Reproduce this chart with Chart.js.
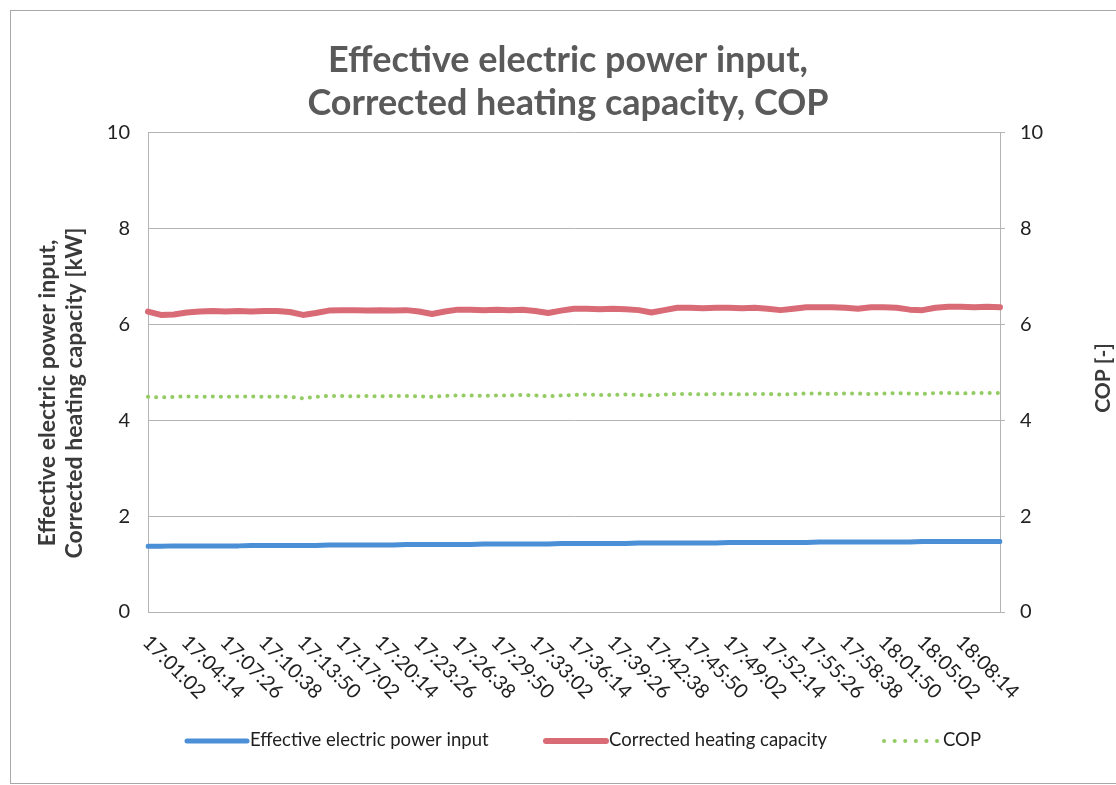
<!DOCTYPE html>
<html>
<head>
<meta charset="utf-8">
<script src="https://cdn.jsdelivr.net/npm/chart.js@4.4.1/dist/chart.umd.min.js"></script>
<style>
  html, body { margin: 0; padding: 0; background: #fff; overflow: hidden; }
  #wrap { position: relative; width: 1116px; height: 785px; overflow: hidden; }
  #frame { position: absolute; left: 10px; top: 10px; width: 1106px; height: 772px;
           border: 1px solid #a8a8a8; border-right: none; pointer-events: none; }
  canvas { position: absolute; left: 0; top: 0; }
</style>
</head>
<body>
<div id="wrap">
  <canvas id="chart" width="1116" height="785"></canvas>
  <div id="frame"></div>
</div>
<script>
/* Effective electric power input / corrected heating capacity / COP */

// ── Data (one point every 64 s) ───────────────────────────────────────────
const times = [
  '17:01:02','17:02:06','17:03:10','17:04:14','17:05:18','17:06:22','17:07:26','17:08:30','17:09:34','17:10:38',
  '17:11:42','17:12:46','17:13:50','17:14:54','17:15:58','17:17:02','17:18:06','17:19:10','17:20:14','17:21:18',
  '17:22:22','17:23:26','17:24:30','17:25:34','17:26:38','17:27:42','17:28:46','17:29:50','17:30:54','17:31:58',
  '17:33:02','17:34:06','17:35:10','17:36:14','17:37:18','17:38:22','17:39:26','17:40:30','17:41:34','17:42:38',
  '17:43:42','17:44:46','17:45:50','17:46:54','17:47:58','17:49:02','17:50:06','17:51:10','17:52:14','17:53:18',
  '17:54:22','17:55:26','17:56:30','17:57:34','17:58:38','17:59:42','18:00:46','18:01:50','18:02:54','18:03:58',
  '18:05:02','18:06:06','18:07:10','18:08:14','18:09:18','18:10:22','18:11:26'
];

// time labels printed under the axis
const tickLabels = [
  '17:01:02','17:04:14','17:07:26','17:10:38','17:13:50','17:17:02','17:20:14','17:23:26',
  '17:26:38','17:29:50','17:33:02','17:36:14','17:39:26','17:42:38','17:45:50','17:49:02',
  '17:52:14','17:55:26','17:58:38','18:01:50','18:05:02','18:08:14'
];

const powerInput = [
  1.37,1.37,1.38,1.38,1.38,1.38,1.38,1.38,1.39,1.39,1.39,
  1.39,1.39,1.39,1.40,1.40,1.40,1.40,1.40,1.40,1.41,1.41,
  1.41,1.41,1.41,1.41,1.42,1.42,1.42,1.42,1.42,1.42,1.43,
  1.43,1.43,1.43,1.43,1.43,1.44,1.44,1.44,1.44,1.44,1.44,
  1.44,1.45,1.45,1.45,1.45,1.45,1.45,1.45,1.46,1.46,1.46,
  1.46,1.46,1.46,1.46,1.46,1.47,1.47,1.47,1.47,1.47,1.47,1.47
];

const heatingCapacity = [
  6.27,6.20,6.21,6.25,6.27,6.28,6.27,6.28,6.27,6.28,6.28,
  6.26,6.20,6.24,6.29,6.30,6.30,6.29,6.30,6.29,6.30,6.27,
  6.22,6.27,6.31,6.31,6.30,6.31,6.30,6.31,6.28,6.24,6.29,
  6.33,6.33,6.32,6.33,6.32,6.30,6.25,6.30,6.35,6.35,6.34,
  6.35,6.35,6.34,6.35,6.33,6.30,6.33,6.36,6.36,6.36,6.35,
  6.33,6.36,6.36,6.35,6.31,6.30,6.35,6.37,6.37,6.36,6.37,6.36
];

const cop = [
  4.49,4.48,4.49,4.50,4.49,4.50,4.49,4.50,4.50,4.49,4.50,
  4.49,4.46,4.49,4.51,4.51,4.50,4.51,4.50,4.51,4.51,4.50,
  4.49,4.51,4.52,4.52,4.51,4.52,4.52,4.53,4.52,4.50,4.52,
  4.53,4.54,4.53,4.53,4.54,4.53,4.52,4.54,4.55,4.55,4.54,
  4.55,4.55,4.54,4.55,4.55,4.54,4.55,4.56,4.56,4.55,4.56,
  4.56,4.55,4.56,4.57,4.56,4.55,4.57,4.57,4.56,4.57,4.57,4.57
];

const leftTitle  = ['Effective electric power input,', 'Corrected heating capacity [kW]'];
const rightTitle = 'COP [-]';

// ── Styling ───────────────────────────────────────────────────────────────
const FONT = 'Lato, "Open Sans", sans-serif';
const GRID = '#b4b4b4';
const series = [
  { label: 'Effective electric power input', data: powerInput,      color: '#4b8fd6', width: 5, dash: [],       axis: 'y'  },
  { label: 'Corrected heating capacity',     data: heatingCapacity, color: '#d96b76', width: 6, dash: [],       axis: 'y'  },
  { label: 'COP',                            data: cop,             color: '#93cc62', width: 4, dash: [0.1, 8], axis: 'y1' }
];

// rotated time labels (text runs down-right from the tick, like Excel)
const timeLabelsPlugin = {
  id: 'timeLabels',
  afterDraw(chart) {
    const { ctx, chartArea } = chart;
    const xs = chart.scales.x;
    ctx.save();
    ctx.font = '20px ' + FONT;
    ctx.fillStyle = '#1e1e1e';
    ctx.textAlign = 'left';
    ctx.textBaseline = 'middle';
    tickLabels.forEach(t => {
      ctx.save();
      ctx.translate(xs.getPixelForValue(times.indexOf(t)) - 2, chartArea.bottom + 27);
      ctx.rotate(Math.PI / 4);
      ctx.fillText(t, 0, 0);
      ctx.restore();
    });
    ctx.restore();
  }
};

// axis titles, both read bottom-to-top in the original
const axisTitlesPlugin = {
  id: 'axisTitles',
  afterDraw(chart) {
    const { ctx } = chart;
    ctx.save();
    ctx.fillStyle = '#3a3a3a';
    ctx.textAlign = 'center';
    ctx.textBaseline = 'middle';
    ctx.font = 'bold 23px ' + FONT;
    leftTitle.forEach((line, i) => {
      ctx.save();
      ctx.translate(48 + i * 27, 393);
      ctx.rotate(-Math.PI / 2);
      ctx.fillText(line, 0, 0);
      ctx.restore();
    });
    ctx.font = 'bold 21px ' + FONT;
    ctx.translate(1103, 378);
    ctx.rotate(-Math.PI / 2);
    ctx.fillText(rightTitle, 0, 0);
    ctx.restore();
  }
};

// legend row under the labels
const legendPlugin = {
  id: 'bottomLegend',
  afterDraw(chart) {
    const { ctx } = chart;
    const y = 741;
    const items = [
      { x: 187, len: 60 },
      { x: 546, len: 60 },
      { x: 884, len: 56 }
    ];
    ctx.save();
    ctx.font = '18.5px ' + FONT;
    ctx.textBaseline = 'middle';
    ctx.textAlign = 'left';
    series.forEach((s, i) => {
      const it = items[i];
      ctx.beginPath();
      ctx.strokeStyle = s.color;
      ctx.lineWidth = s.width;
      ctx.lineCap = 'round';
      ctx.setLineDash(s.dash.length ? [0.1, 10.5] : []);
      ctx.moveTo(it.x, y);
      ctx.lineTo(it.x + it.len, y);
      ctx.stroke();
      ctx.setLineDash([]);
      ctx.fillStyle = '#1e1e1e';
      ctx.fillText(s.label, it.x + it.len + 3, y - 1);
    });
    ctx.restore();
  }
};

// ── Chart ─────────────────────────────────────────────────────────────────
const ctx = document.getElementById('chart').getContext('2d');
const chart = new Chart(ctx, {
  type: 'line',
  data: {
    labels: times,
    datasets: series.map(s => ({
      label: s.label,
      data: s.data,
      yAxisID: s.axis,
      borderColor: s.color,
      backgroundColor: 'transparent',
      borderWidth: s.width,
      borderDash: s.dash,
      borderCapStyle: 'round',
      borderJoinStyle: 'round',
      tension: 0,
      pointRadius: 0
    }))
  },
  options: {
    responsive: false,
    animation: false,
    layout: { padding: { left: 20, right: 0, top: 0, bottom: 0 } },
    plugins: {
      legend: { display: false },
      tooltip: { enabled: false },
      title: {
        display: true,
        text: ['Effective electric power input,', 'Corrected heating capacity, COP'],
        color: '#5a5a5a',
        font: { family: FONT, size: 36, weight: 'bold', lineHeight: 1.22 },
        padding: { top: 38, bottom: 7 }
      }
    },
    scales: {
      x: {
        type: 'category',
        offset: false,
        grid: { display: false },
        border: { display: true, color: GRID },
        ticks: { display: false },
        afterFit: s => { s.height = 173; }
      },
      y: {
        position: 'left',
        min: 0, max: 10,
        ticks: { stepSize: 2, color: '#222', padding: 18, font: { family: FONT, size: 20 } },
        grid: { color: GRID, drawTicks: false },
        border: { color: GRID },
        afterFit: s => { s.width = 128; }
      },
      y1: {
        position: 'right',
        min: 0, max: 10,
        ticks: { stepSize: 2, color: '#222', padding: 15, font: { family: FONT, size: 20 } },
        grid: { drawOnChartArea: false, color: GRID, tickLength: 5 },
        border: { color: GRID },
        afterFit: s => { s.width = 116; }
      }
    }
  },
  plugins: [timeLabelsPlugin, axisTitlesPlugin, legendPlugin]
});
</script>
</body>
</html>
